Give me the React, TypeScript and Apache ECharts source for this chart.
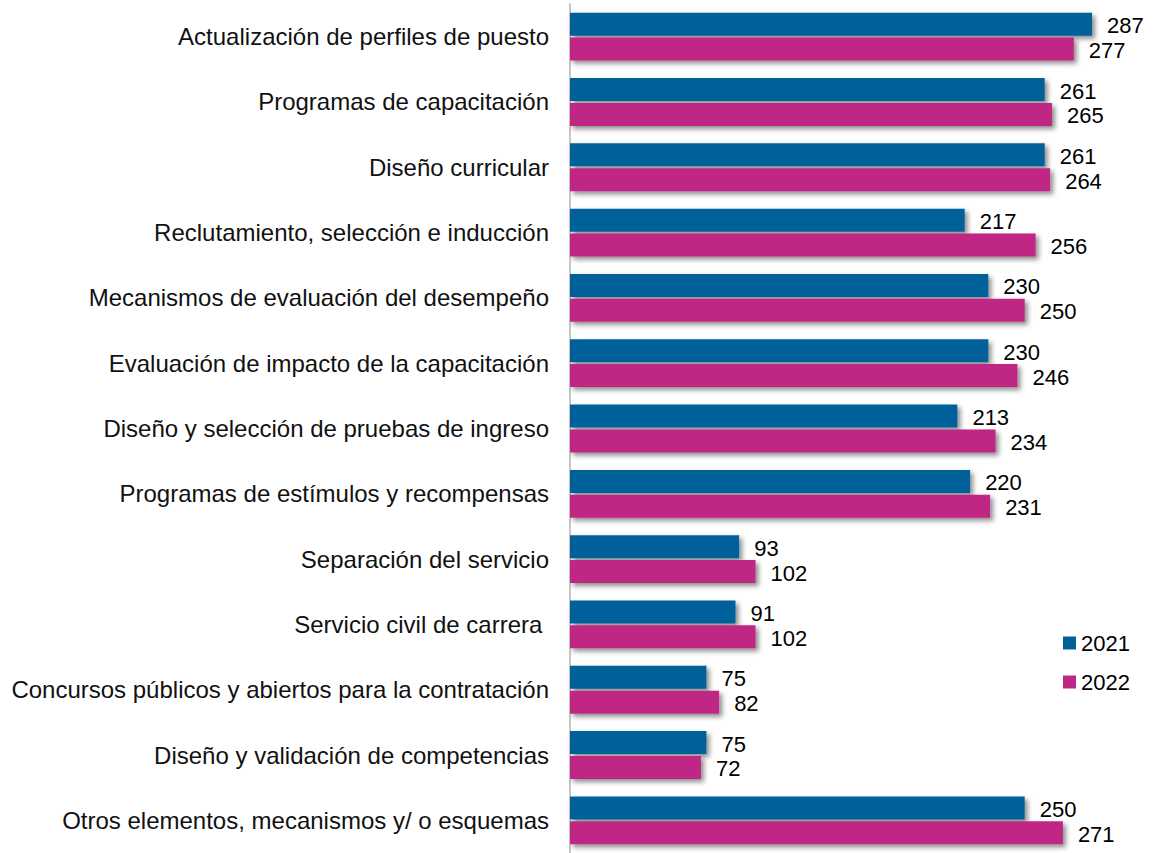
import React, { useEffect, useRef } from "react";
import * as echarts from "echarts";

const categories = [
  "Actualización de perfiles de puesto",
  "Programas de capacitación",
  "Diseño curricular",
  "Reclutamiento, selección e inducción",
  "Mecanismos de evaluación del desempeño",
  "Evaluación de impacto de la capacitación",
  "Diseño y selección de pruebas de ingreso",
  "Programas de estímulos y recompensas",
  "Separación del servicio",
  "Servicio civil de carrera ",
  "Concursos públicos y abiertos para la contratación",
  "Diseño y validación de competencias",
  "Otros elementos, mecanismos y/ o esquemas",
];
const values2021 = [287, 261, 261, 217, 230, 230, 213, 220, 93, 91, 75, 75, 250];
const values2022 = [277, 265, 264, 256, 250, 246, 234, 231, 102, 102, 82, 72, 271];

const FONT = "'Liberation Sans', Arial, sans-serif";

export default function App() {
  const ref = useRef<HTMLDivElement>(null);
  useEffect(() => {
    document.body.style.margin = "0";
    const chart = echarts.init(ref.current!, null, { renderer: "svg" });
    const shadow = {
      shadowColor: "rgba(0,0,0,0.45)",
      shadowBlur: 5,
      shadowOffsetX: 3,
      shadowOffsetY: 3,
    };
    const label = {
      show: true,
      position: "right" as const,
      distance: 15,
      offset: [0, 1.5],
      color: "#000",
      fontSize: 22,
      fontFamily: FONT,
    };
    chart.setOption({
      animation: false,
      textStyle: { fontFamily: FONT },
      grid: { left: 570, top: 4, width: 582, height: 858, containLabel: false },
      legend: {
        orient: "vertical",
        left: 1063,
        top: 632,
        padding: 0,
        itemWidth: 13,
        itemHeight: 13,
        itemGap: 17,
        textStyle: { fontSize: 22, color: "#000", fontFamily: FONT },
        data: [
          { name: "2021", icon: "rect" },
          { name: "2022", icon: "rect" },
        ],
      },
      xAxis: {
        type: "value",
        min: 0,
        max: 320,
        show: false,
      },
      yAxis: {
        type: "category",
        inverse: true,
        data: categories,
        axisLine: { show: true, lineStyle: { color: "#c8c8c8", width: 2 } },
        axisTick: { show: false },
        axisLabel: { fontSize: 24, color: "#111", margin: 21, fontFamily: FONT },
      },
      series: [
        {
          name: "2021",
          type: "bar",
          data: values2021,
          barWidth: 23,
          barGap: "8%",
          itemStyle: { color: "#006199", ...shadow },
          label,
        },
        {
          name: "2022",
          type: "bar",
          data: values2022,
          barWidth: 23,
          itemStyle: { color: "#C02684", ...shadow },
          label,
        },
      ],
    });
    return () => chart.dispose();
  }, []);
  return <div ref={ref} style={{ width: 1158, height: 853 }} />;
}
